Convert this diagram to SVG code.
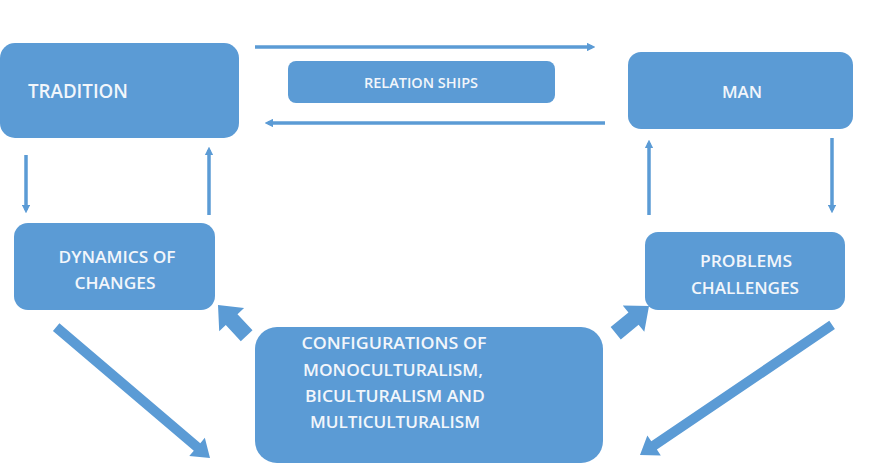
<svg xmlns="http://www.w3.org/2000/svg" width="893" height="464" viewBox="0 0 893 464">
<defs>
<style>
.box{fill:#5b9bd5;}
.t{fill:#f2f6fb;font-family:"Open Sans","Liberation Sans",sans-serif;font-weight:600;}
.ln{stroke:#5b9bd5;stroke-width:3.5;fill:none;}
.blk{fill:#5b9bd5;}
</style>
<marker id="ah" viewBox="0 0 10 10" refX="6" refY="5" markerWidth="2.4" markerHeight="2.4" orient="auto" markerUnits="strokeWidth">
<path d="M0,0 L10,5 L0,10 z" fill="#5b9bd5"/>
</marker>
</defs>
<rect width="893" height="464" fill="#ffffff"/>
<g id="tradition"><rect class="box" x="0" y="43" width="239" height="95" rx="15"/><text class="t" x="28" y="98" font-size="20" textLength="100" lengthAdjust="spacingAndGlyphs">TRADITION</text></g>
<g id="relationships"><rect class="box" x="288" y="61" width="267" height="42" rx="8"/><text class="t" x="421" y="88" font-size="14" text-anchor="middle" textLength="114" lengthAdjust="spacingAndGlyphs">RELATION SHIPS</text></g>
<g id="man"><rect class="box" x="628" y="52" width="225" height="77" rx="13"/><text class="t" x="742" y="98" font-size="17" text-anchor="middle">MAN</text></g>
<g id="dynamics"><rect class="box" x="14" y="223" width="201" height="87" rx="14"/><text class="t" font-size="16" text-anchor="middle"><tspan x="117" y="263" textLength="117" lengthAdjust="spacingAndGlyphs">DYNAMICS OF</tspan><tspan x="115" y="289" textLength="81" lengthAdjust="spacingAndGlyphs">CHANGES</tspan></text></g>
<g id="problems"><rect class="box" x="645" y="232" width="200" height="78" rx="13"/><text class="t" font-size="16" text-anchor="middle"><tspan x="746" y="267" textLength="92" lengthAdjust="spacingAndGlyphs">PROBLEMS</tspan><tspan x="745" y="294" textLength="108" lengthAdjust="spacingAndGlyphs">CHALLENGES</tspan></text></g>
<g id="configurations"><rect class="box" x="255" y="327" width="348" height="136" rx="22"/><text class="t" font-size="16" text-anchor="middle"><tspan x="394" y="349" textLength="185" lengthAdjust="spacingAndGlyphs">CONFIGURATIONS  OF</tspan><tspan x="393" y="376" textLength="180" lengthAdjust="spacingAndGlyphs">MONOCULTURALISM,</tspan><tspan x="395" y="402" textLength="180" lengthAdjust="spacingAndGlyphs">BICULTURALISM AND</tspan><tspan x="395" y="428" textLength="170" lengthAdjust="spacingAndGlyphs">MULTICULTURALISM</tspan></text></g>
<g id="connectors">
<line class="ln" x1="255" y1="47" x2="592" y2="47" marker-end="url(#ah)"/>
<line class="ln" x1="605" y1="123" x2="268" y2="123" marker-end="url(#ah)"/>
<line class="ln" x1="26" y1="155" x2="26" y2="210" marker-end="url(#ah)"/>
<line class="ln" x1="209" y1="215" x2="209" y2="150" marker-end="url(#ah)"/>
<line class="ln" x1="649" y1="215" x2="649" y2="143" marker-end="url(#ah)"/>
<line class="ln" x1="832" y1="138" x2="832" y2="210" marker-end="url(#ah)"/>
<polygon class="blk" transform="translate(649,306) rotate(-39.3)" points="0,0 -20,-17 -20,-8 -43,-8 -43,8 -20,8 -20,17"/>
<polygon class="blk" transform="translate(218,305) rotate(-133)" points="0,0 -20,-17 -20,-8 -42,-8 -42,8 -20,8 -20,17"/>
<polygon class="blk" transform="translate(210,458) rotate(40.4)" points="0,0 -17,-12 -17,-5 -202,-5 -202,5 -17,5 -17,12"/>
<polygon class="blk" transform="translate(640,455) rotate(145.9)" points="0,0 -17,-12 -17,-5 -232,-5 -232,5 -17,5 -17,12"/>
</g>
</svg>
